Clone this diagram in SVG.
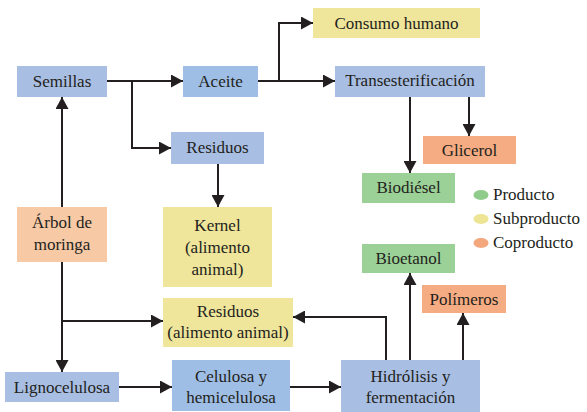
<svg xmlns="http://www.w3.org/2000/svg" width="587" height="412" viewBox="0 0 587 412">
<style>
text{font-family:Liberation Serif,serif;font-size:17px;fill:#231f20;text-anchor:middle}
.lg{text-anchor:start}
.blue{fill:#a8bee3}
.blue2{fill:#9fbee5}
.green{fill:#9bd097}
.yellow{fill:#efe59b}
.orange{fill:#f6ac82}
.peach{fill:#f7c9a5}
.conn path{fill:none;stroke:#231f20;stroke-width:2;marker-end:url(#ah)}
</style>
<defs>
<marker id="ah" markerWidth="12" markerHeight="13" refX="12" refY="6.5" orient="auto" markerUnits="userSpaceOnUse">
<path d="M0,0 L12,6.5 L0,13 Z" fill="#231f20"/>
</marker>
</defs>
<rect width="587" height="412" fill="#ffffff"/>
<g class="conn" id="connectors">
<path d="M107,81 H183"/>
<path d="M132,81 V148 H171"/>
<path d="M258,81 H335"/>
<path d="M279,81 V23 H313"/>
<path d="M410,97 V173"/>
<path d="M469,97 V136"/>
<path d="M218,164 V207"/>
<path d="M62,207 V97"/>
<path d="M62,262 V372"/>
<path d="M62,321 H163"/>
<path d="M119,387 H172"/>
<path d="M290,387 H341"/>
<path d="M410,360 V273"/>
<path d="M463,360 V313"/>
<path d="M386,360 V317 H293"/>
</g>
<g id="semillas"><rect class="blue" x="17" y="66" width="90" height="31"/><text x="62" y="87" font-family="Liberation Serif">Semillas</text></g>
<g id="aceite"><rect class="blue2" x="183" y="66" width="75" height="31"/><text x="220.5" y="87">Aceite</text></g>
<g id="residuos"><rect class="blue" x="171" y="132" width="93" height="32"/><text x="217.5" y="153">Residuos</text></g>
<g id="consumo"><rect class="yellow" x="313" y="8" width="167" height="30"/><text x="396.5" y="29">Consumo humano</text></g>
<g id="trans"><rect class="blue" x="335" y="66" width="150" height="31"/><text x="410" y="86">Transesterificación</text></g>
<g id="glicerol"><rect class="orange" x="423" y="136" width="93" height="28"/><text x="469.5" y="156">Glicerol</text></g>
<g id="biodiesel"><rect class="green" x="362" y="173" width="93" height="30"/><text x="408.5" y="193">Biodiésel</text></g>
<g id="arbol"><rect class="peach" x="17" y="207" width="90" height="55"/><text x="62" y="228">Árbol de</text><text x="62" y="250">moringa</text></g>
<g id="kernel"><rect class="yellow" x="163" y="207" width="109" height="80"/><text x="217.5" y="231">Kernel</text><text x="217.5" y="253">(alimento</text><text x="217.5" y="275">animal)</text></g>
<g id="residuos2"><rect class="yellow" x="163" y="298" width="130" height="49"/><text x="228" y="317">Residuos</text><text x="228" y="338">(alimento animal)</text></g>
<g id="ligno"><rect class="blue" x="5" y="372" width="114" height="30"/><text x="62" y="393">Lignocelulosa</text></g>
<g id="celulosa"><rect class="blue2" x="172" y="360" width="118" height="51"/><text x="231" y="382">Celulosa y</text><text x="231" y="403">hemicelulosa</text></g>
<g id="hidrolisis"><rect class="blue" x="341" y="360" width="139" height="52"/><text x="410.5" y="382">Hidrólisis y</text><text x="410.5" y="403">fermentación</text></g>
<g id="bioetanol"><rect class="green" x="362" y="244" width="93" height="29"/><text x="408.5" y="264">Bioetanol</text></g>
<g id="polimeros"><rect class="orange" x="422" y="285" width="84" height="28"/><text x="464" y="305">Polímeros</text></g>
<g id="legend">
<ellipse cx="481" cy="195" rx="7.5" ry="5" fill="#8fcc8c"/><text class="lg" x="493" y="200">Producto</text>
<ellipse cx="481" cy="219" rx="7.5" ry="5" fill="#ede594"/><text class="lg" x="493" y="224">Subproducto</text>
<ellipse cx="481" cy="243" rx="7.5" ry="5" fill="#f4a67d"/><text class="lg" x="493" y="248">Coproducto</text>
</g>
</svg>
